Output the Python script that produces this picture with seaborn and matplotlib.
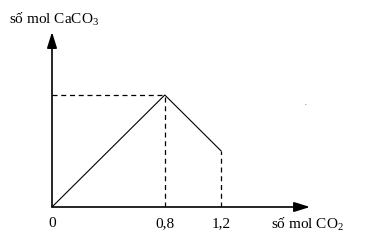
import matplotlib
matplotlib.use("Agg")
import matplotlib.pyplot as plt
import seaborn as sns
import pandas as pd

# Data
co2 = [0, 0.8, 1.2]
caco3 = [0, 0.8, 0.4]
tick_vals = [0, 0.8, 1.2]
tick_labels = ["0", "0,8", "1,2"]
x_max = 1.83
y_max = 1.25

sns.set_theme(style="white")
plt.rcParams['font.family'] = ['Liberation Serif', 'DejaVu Serif']
plt.rcParams['mathtext.fontset'] = 'custom'
plt.rcParams['mathtext.rm'] = 'Liberation Serif'
plt.rcParams['mathtext.it'] = 'Liberation Serif:italic'

W, H = 370, 245
fig = plt.figure(figsize=(W / 100, H / 100), dpi=100)
fig.patch.set_facecolor('white')
ax = fig.add_axes([52 / W, 38 / H, 258 / W, 175 / H])
ax.set_facecolor('white')

df = pd.DataFrame({"co2": co2, "caco3": caco3})
sns.lineplot(data=df, x="co2", y="caco3", sort=False, color="black", lw=0.8, ax=ax)

dash = (0, (4, 3))
ax.plot([0, co2[1]], [caco3[1], caco3[1]], color="black", lw=0.9, linestyle=dash)
ax.plot([co2[1], co2[1]], [0, caco3[1]], color="black", lw=0.9, linestyle=dash)
ax.plot([co2[2], co2[2]], [0, caco3[2]], color="black", lw=0.9, linestyle=dash)

ax.set_xlim(0, x_max)
ax.set_ylim(0, y_max)
for s in ax.spines.values():
    s.set_visible(False)

arrow = dict(arrowstyle='-|>,head_length=0.8,head_width=0.25', color='black', lw=1.2,
             shrinkA=0, shrinkB=0)
ax.annotate('', xy=(0, y_max), xytext=(0, 0), arrowprops=arrow, annotation_clip=False)
ax.annotate('', xy=(x_max, 0), xytext=(0, 0), arrowprops=arrow, annotation_clip=False)

ax.set_xticks(tick_vals, tick_labels)
ax.set_yticks([])
ax.tick_params(axis='x', length=0, pad=7, labelsize=11, colors='black')
ax.set_xlabel('')
ax.set_ylabel('')

fig.text(9 / W, 1 - 24 / H, 'số mol CaCO$_3$', fontsize=11, va='baseline', ha='left', color='black')
fig.text(271 / W, 1 - 229 / H, 'số mol CO$_2$', fontsize=11, va='baseline', ha='left', color='black')
fig.text(305 / W, 1 - 105 / H, '.', fontsize=5, va='baseline', ha='left', color='black')

fig.savefig('out.png', dpi=100)
